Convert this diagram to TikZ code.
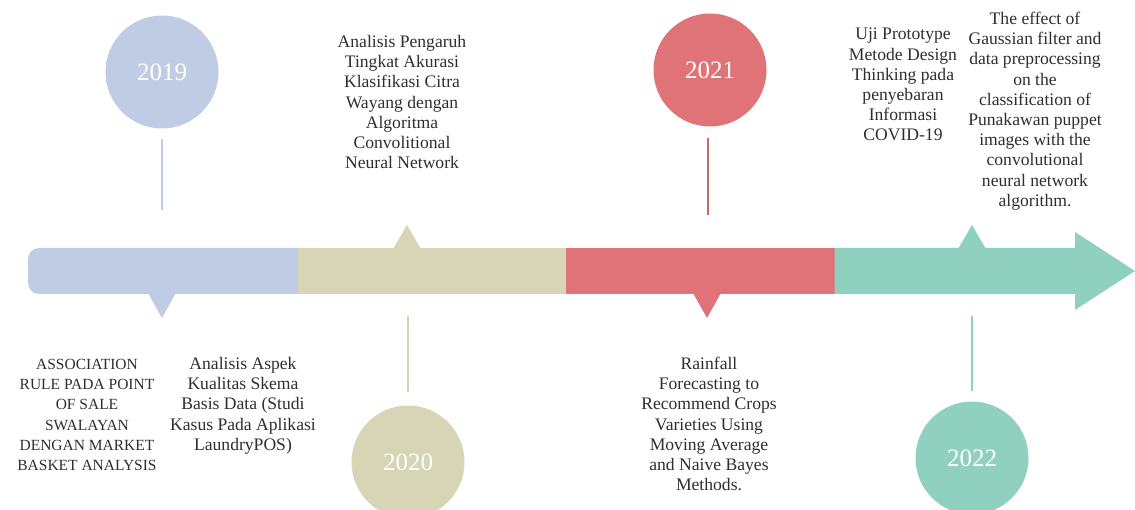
\documentclass[tikz,border=0pt]{standalone}
\usepackage{fontspec}
\setmainfont{Liberation Serif}
\definecolor{cblue}{HTML}{BFCCE3}
\definecolor{cbeige}{HTML}{D7D5B5}
\definecolor{cred}{HTML}{E07377}
\definecolor{cgreen}{HTML}{8FD0BE}
\definecolor{ctext}{HTML}{2E2E2E}
\begin{document}
\begin{tikzpicture}[x=1pt,y=-1pt,
  year/.style={circle,fill=#1,minimum size=113pt,inner sep=0pt,
    text=white,font=\fontsize{25}{28}\selectfont},
  tick/.style={draw=#1,line width=1.5pt},
  desc/.style={align=center,anchor=north,inner sep=0pt,text=ctext,
    font=\fontsize{17.6}{20.2}\selectfont},
  capsdesc/.style={desc,font=\fontsize{15.5}{20.2}\selectfont}]
\useasboundingbox (0,0) rectangle (1135,510);

% timeline bar, four coloured segments ending in an arrow head
\fill[cblue,rounded corners=11pt] (28,248) rectangle (330,294);
\fill[cbeige] (297.5,248) rectangle (566,294);
\fill[cred] (565.5,248) rectangle (835,294);
\fill[cgreen] (834.5,248) -- (1075,248) -- (1075,232) -- (1135,271)
  -- (1075,310) -- (1075,294) -- (834.5,294) -- cycle;

% pointers on the bar
\fill[cblue] (148,293) -- (176,293) -- (162,318) -- cycle;
\fill[cbeige] (393,249) -- (421,249) -- (407,225) -- cycle;
\fill[cred] (693,293) -- (721,293) -- (707,318) -- cycle;
\fill[cgreen] (958,249) -- (986,249) -- (972,225) -- cycle;

% year markers
\node[year=cblue] (y2019) at (162,72) {2019};
\node[year=cbeige] (y2020) at (408,462) {2020};
\node[year=cred] (y2021) at (710,70) {2021};
\node[year=cgreen] (y2022) at (972,458) {2022};

% stems between the markers and the bar
\coordinate (e2019) at (162,210);
\coordinate (e2020) at (408,316);
\coordinate (e2021) at (708,215);
\coordinate (e2022) at (972,316);
\draw[tick=cblue,shorten <=10pt] (y2019.south) -- (e2019);
\draw[tick=cbeige,shorten >=13pt] (e2020) -- (y2020.north);
\draw[tick=cred!90!black,shorten <=11pt] (y2021.south -| e2021) -- (e2021);
\draw[tick=cgreen,shorten >=10pt] (e2022) -- (y2022.north);

% publication titles
\node[desc] (p1) at (402,35) {Analisis Pengaruh\\Tingkat Akurasi\\Klasifikasi Citra\\Wayang dengan\\Algoritma\\Convolitional\\Neural Network};
\node[desc] (p2) at (903,28) {Uji Prototype\\Metode Design\\Thinking pada\\penyebaran\\Informasi\\COVID-19};
\node[desc] (p3) at (1035,12) {The effect of\\Gaussian filter and\\data preprocessing\\on the\\classification of\\Punakawan puppet\\images with the\\convolutional\\neural network\\algorithm.};
\node[capsdesc] (p4) at (87,359) {ASSOCIATION\\RULE PADA POINT\\OF SALE\\SWALAYAN\\DENGAN MARKET\\BASKET ANALYSIS};
\node[desc] (p5) at (243,357) {Analisis Aspek\\Kualitas Skema\\Basis Data (Studi\\Kasus Pada Aplikasi\\LaundryPOS)};
\node[desc] (p6) at (709,357) {Rainfall\\Forecasting to\\Recommend Crops\\Varieties Using\\Moving Average\\and Naive Bayes\\Methods.};
\end{tikzpicture}
\end{document}
